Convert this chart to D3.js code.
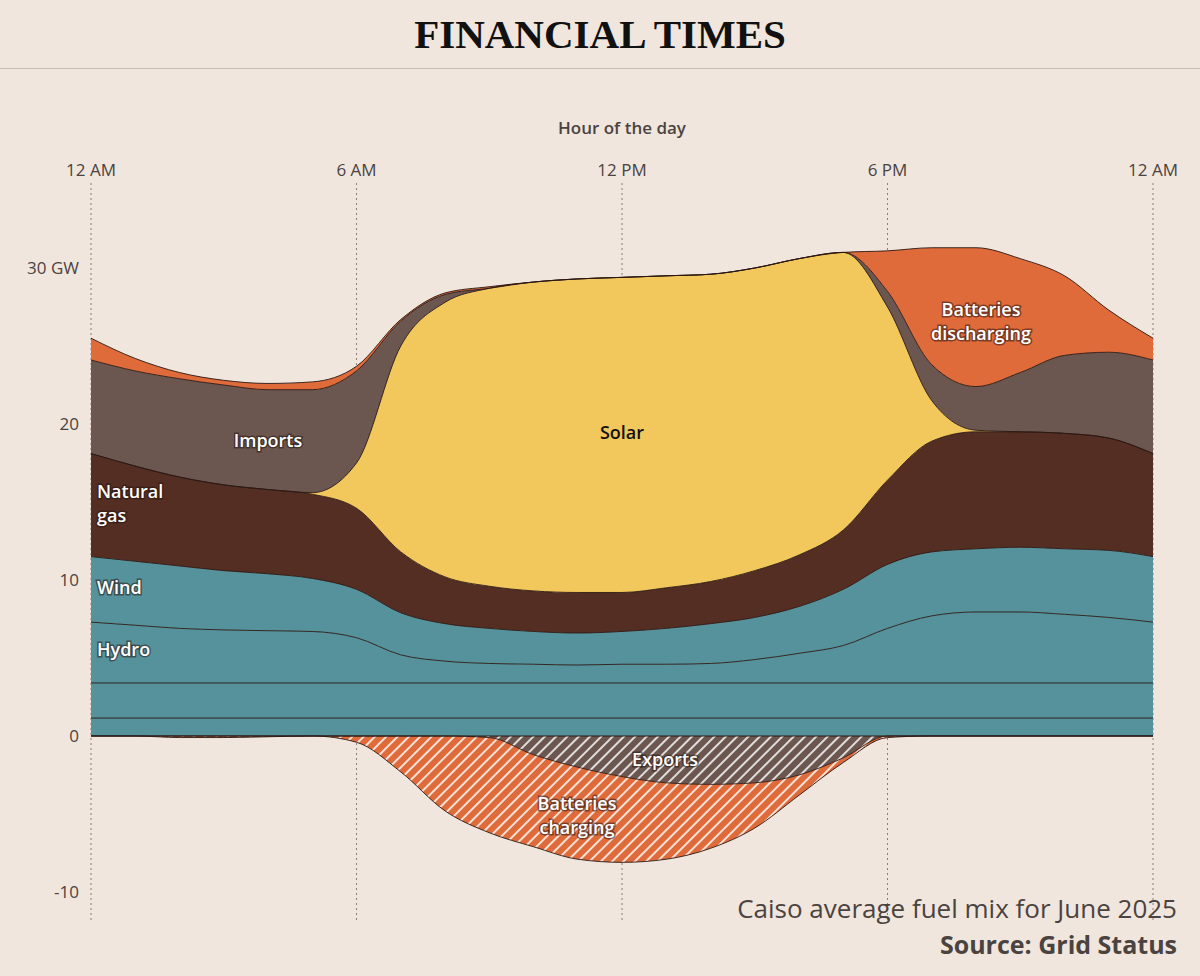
<!DOCTYPE html>
<head>
<meta charset="utf-8">
<script src="https://cdnjs.cloudflare.com/ajax/libs/d3/7.8.5/d3.min.js"></script>
<style>
body{margin:0;background:#f1e6dd;}
text{font-family:"Open Sans",sans-serif;}
</style>
</head>
<body>
<svg width="1200" height="976"></svg>
<script>
// hourly averages, hour 0..24
var hours = d3.range(0, 25);
var other   = hours.map(function(){return 1.15;});
var nuclear = hours.map(function(){return 2.25;});
var hydro   = [3.9,3.7,3.5,3.4,3.35,3.3,2.9,1.8,1.4,1.25,1.2,1.15,1.2,1.2,1.25,1.5,1.9,2.4,3.5,4.3,4.55,4.55,4.4,4.2,3.9];
var wind    = [4.2,4.1,4.0,3.8,3.65,3.4,3.1,2.7,2.4,2.25,2.1,2.05,2.1,2.3,2.55,2.7,3.0,3.6,4.1,4.1,4.05,4.15,4.2,4.3,4.2];
var gas     = [6.6,6.1,5.7,5.5,5.4,5.4,5.2,3.9,3.0,2.7,2.6,2.6,2.5,2.6,2.7,3.0,3.3,3.8,5.4,7.1,7.5,7.4,7.4,7.2,6.6];
var solar   = [0,0,0,0,0,0.1,2.9,13.2,17.6,19.1,19.8,20.1,20.2,20.0,19.7,19.4,19.0,17.8,11.1,2.6,0.1,0,0,0,0];
var imports = [6.0,6.1,6.3,6.4,6.4,6.6,5.9,1.6,0.5,0,0,0,0,0,0,0,0,0,1.0,2.3,2.8,3.8,5.0,5.5,6.0];
var battOut = [1.4,0.8,0.4,0.3,0.4,0.5,0.3,0.1,0.1,0.1,0,0,0,0,0,0,0,0,2.6,7.5,8.9,7.3,5.1,2.7,1.4];
var exportsV= [0,0,0,0,0,0,0,0,0,-0.1,-1.2,-2.0,-2.6,-3.0,-3.1,-3.0,-2.5,-1.4,0,0,0,0,0,0,0];
var battIn  = [0,0,-0.1,-0.1,-0.05,0,-0.4,-2.3,-4.8,-6.1,-5.9,-5.9,-5.5,-4.9,-4.1,-2.9,-1.3,-0.3,-0.1,0,0,0,0,0,0];
var xTicks = [0,6,12,18,24];
var xTickLabels = ["12 AM","6 AM","12 PM","6 PM","12 AM"];
var yTicks = [-10,0,10,20,30];

var posKeys = ["other","nuclear","hydro","wind","gas","solar","imports","battOut"];
var negKeys = ["exports","battIn"];
var table = hours.map(function(h,i){
  return {h:h, other:other[i], nuclear:nuclear[i], hydro:hydro[i], wind:wind[i], gas:gas[i],
    solar:solar[i], imports:imports[i], battOut:battOut[i], exports:exportsV[i], battIn:battIn[i]};
});
var colors = {other:"#55929c",nuclear:"#55929c",hydro:"#55929c",wind:"#55929c",gas:"#542e22",
  solar:"#f2c75c",imports:"#6b5750",battOut:"#df6a3a",exports:"url(#hatchBrown)",battIn:"url(#hatchOrange)"};

var svg = d3.select("svg");
var x = d3.scaleLinear().domain([0,24]).range([91,1153]);
var y = d3.scaleLinear().domain([-10,30]).range([892,268]);

// header
svg.append("text").attr("x",600).attr("y",48).attr("text-anchor","middle")
  .style("font-family","'Liberation Serif',serif").style("font-size","41px").style("font-weight","bold")
  .attr("fill","#111").text("FINANCIAL TIMES");
svg.append("line").attr("x1",0).attr("x2",1200).attr("y1",68.5).attr("y2",68.5).attr("stroke","#c9bdb3");

var defs = svg.append("defs");
function hatch(id, bg){
  var p = defs.append("pattern").attr("id",id).attr("patternUnits","userSpaceOnUse")
    .attr("width",8).attr("height",8).attr("patternTransform","rotate(45)");
  p.append("rect").attr("width",8).attr("height",8).attr("fill",bg);
  p.append("line").attr("x1",2).attr("x2",2).attr("y1",0).attr("y2",8).attr("stroke","#fff").attr("stroke-width",1.6);
}
hatch("hatchOrange","#df6a3a");
hatch("hatchBrown","#6b5750");

// grid
var g = svg.append("g");
g.selectAll(".vg").data(xTicks).enter().append("line")
  .attr("x1",d=>x(d)).attr("x2",d=>x(d)).attr("y1",183).attr("y2",922)
  .attr("stroke","#8a7f78").attr("stroke-dasharray","2,3").attr("stroke-width",1);
g.selectAll(".xt").data(xTicks).enter().append("text")
  .attr("x",d=>x(d)).attr("y",176).attr("text-anchor","middle").attr("fill","#4a4340")
  .style("font-size","17px").text((d,i)=>xTickLabels[i]);
svg.append("text").attr("x",622).attr("y",134).attr("text-anchor","middle").attr("fill","#4a4340")
  .style("font-size","17px").style("font-weight","600").text("Hour of the day");
g.selectAll(".yt").data(yTicks).enter().append("text")
  .attr("x",79).attr("y",d=>y(d)+6).attr("text-anchor","end").attr("fill","#4a4340")
  .style("font-size","17px").text(d=>d===30?"30 GW":d);

var area = d3.area().x(d=>x(d.data.h)).y0(d=>y(d[0])).y1(d=>y(d[1])).curve(d3.curveMonotoneX);
var line = d3.line().x(d=>x(d.data.h)).y(d=>y(d[1])).curve(d3.curveMonotoneX);
var pos = d3.stack().keys(posKeys)(table);
var neg = d3.stack().keys(negKeys)(table);
var layers = pos.concat(neg);
var lg = svg.append("g");
lg.selectAll(".a").data(layers).enter().append("path")
  .attr("d",area).attr("fill",d=>colors[d.key]);
lg.selectAll(".l").data(layers).enter().append("path")
  .attr("d",line).attr("fill","none").attr("stroke","#2a1712").attr("stroke-width",0.9);
svg.append("line").attr("x1",x(0)).attr("x2",x(24)).attr("y1",y(0)).attr("y2",y(0))
  .attr("stroke","#2a1712").attr("stroke-width",1);

// labels
var labels = [
  {t:["Imports"],x:268,y:447,c:"#fff",a:"middle"},
  {t:["Natural","gas"],x:97,y:498,c:"#fff",a:"start"},
  {t:["Wind"],x:97,y:594,c:"#fff",a:"start"},
  {t:["Hydro"],x:97,y:656,c:"#fff",a:"start"},
  {t:["Solar"],x:622,y:439,c:"#111",a:"middle",noHalo:true},
  {t:["Batteries","discharging"],x:981,y:316,c:"#fff",a:"middle"},
  {t:["Exports"],x:665,y:766,c:"#fff",a:"middle"},
  {t:["Batteries","charging"],x:577,y:810,c:"#fff",a:"middle"}
];
labels.forEach(function(l){
  var t = svg.append("text").attr("x",l.x).attr("y",l.y).attr("text-anchor",l.a)
    .attr("fill",l.c).style("font-size","18px").style("font-weight","600");
  if(!l.noHalo) t.attr("stroke","rgba(40,20,15,0.55)").attr("stroke-width",3).attr("paint-order","stroke");
  l.t.forEach(function(s,i){ t.append("tspan").attr("x",l.x).attr("dy",i?24:0).text(s); });
});

// footer
svg.append("text").attr("x",1177).attr("y",918).attr("text-anchor","end").attr("fill","#4a4340")
  .style("font-size","26px").text("Caiso average fuel mix for June 2025");
svg.append("text").attr("x",1177).attr("y",954).attr("text-anchor","end").attr("fill","#4a4340")
  .style("font-size","25px").style("font-weight","bold").text("Source: Grid Status");
</script>
</body>
</html>
